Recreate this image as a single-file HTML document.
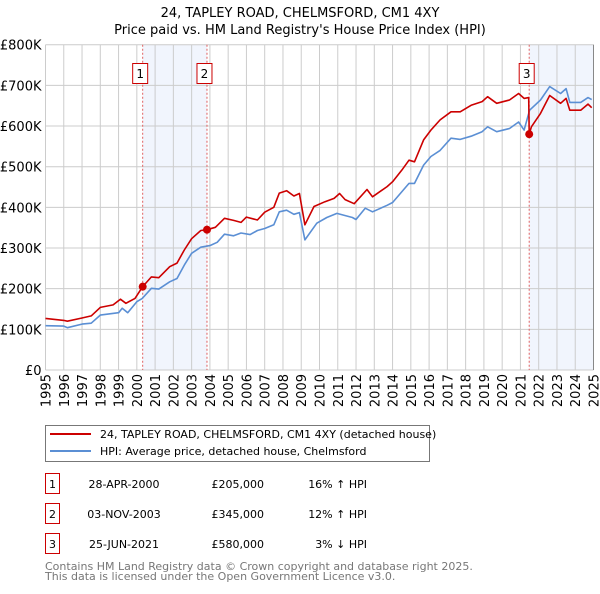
<!DOCTYPE html>
<html><head><meta charset="utf-8"><style>
body{margin:0;background:#fff;font-family:"DejaVu Sans","Liberation Sans",sans-serif;}
svg text{font-family:"DejaVu Sans","Liberation Sans",sans-serif;}
</style></head><body>
<svg width="600" height="590" viewBox="0 0 600 590">
<g id="root"></g>
</svg>
<script>
const hpiYears=[1995,1996,1996.2,1997,1997.5,1998,1999,1999.2,1999.5,2000,2000.3,2000.8,2001.2,2001.8,2002.2,2002.6,2003,2003.5,2004,2004.4,2004.8,2005.3,2005.7,2006.2,2006.6,2007,2007.5,2007.8,2008.2,2008.6,2008.9,2009.2,2009.85,2010.4,2010.95,2011.8,2012,2012.5,2012.9,2013.7,2014,2014.9,2015.2,2015.7,2016.1,2016.6,2017.2,2017.7,2018.3,2018.9,2019.2,2019.7,2020.4,2020.9,2021.2,2021.5,2022.1,2022.6,2023.2,2023.5,2023.7,2024.3,2024.7,2024.9];
const hpiValues=[109,108,104,113,115,135,141,152,141,168,176,201,199,217,225,258,287,302,306,314,334,330,337,333,343,348,357,389,393,383,387,320,361,375,385,375,370,398,389,405,412,459,459,504,525,540,570,567,575,586,598,586,594,610,590,639,664,697,680,692,658,658,670,665];
const priceYears=[1995,1996,1996.2,1997,1997.5,1998,1998.7,1999.1,1999.4,1999.9,2000.32,2000.8,2001.2,2001.8,2002.2,2002.6,2003,2003.5,2003.84,2004.3,2004.8,2005.3,2005.7,2006,2006.6,2007,2007.5,2007.8,2008.2,2008.6,2008.9,2009.2,2009.7,2010.3,2010.8,2011.1,2011.4,2011.9,2012.6,2012.9,2013.7,2014,2014.5,2014.9,2015.2,2015.7,2016.1,2016.6,2017.2,2017.7,2018.3,2018.9,2019.2,2019.7,2020.4,2020.9,2021.2,2021.45,2021.48,2021.6,2022.1,2022.6,2023.2,2023.5,2023.7,2024.3,2024.7,2024.9];
const priceValues=[127,122,120,128,133,154,160,174,164,176,205,229,227,254,263,295,323,343,345,351,373,368,363,376,369,388,400,435,441,428,434,357,402,414,422,434,419,409,444,426,451,463,491,516,512,566,590,615,635,635,651,660,672,656,664,680,668,670,580,598,631,675,656,668,639,639,654,645];
const saleYears=[2000.32,2003.84,2021.48];
const saleValues=[205,345,580];
const saleLabels=["1","2","3"];
const yTicks=[0,100,200,300,400,500,600,700,800];
const yTickLabels=["£0","£100K","£200K","£300K","£400K","£500K","£600K","£700K","£800K"];
const xTicks=[1995,1996,1997,1998,1999,2000,2001,2002,2003,2004,2005,2006,2007,2008,2009,2010,2011,2012,2013,2014,2015,2016,2017,2018,2019,2020,2021,2022,2023,2024,2025];
const tableDates=["28-APR-2000","03-NOV-2003","25-JUN-2021"];
const tablePrices=["£205,000","£345,000","£580,000"];
const tableHpi=["16% ↑ HPI","12% ↑ HPI","3% ↓ HPI"];

const L=45.5,R=593.5,T=44.7,B=370;
const X=y=>L+(y-1995)*(R-L)/30;
const Y=v=>B-v*(B-T)/800;
const NS="http://www.w3.org/2000/svg";
const root=document.getElementById('root');
function mk(tag,attrs,parent){const e=document.createElementNS(NS,tag);for(const k in attrs)e.setAttribute(k,attrs[k]);(parent||root).appendChild(e);return e;}

// title
let t=mk('text',{x:300,y:17,'text-anchor':'middle','font-size':13,fill:'#000'});t.textContent="24, TAPLEY ROAD, CHELMSFORD, CM1 4XY";


t=mk('text',{x:300,y:34,'text-anchor':'middle','font-size':13,fill:'#000'});t.textContent="Price paid vs. HM Land Registry's House Price Index (HPI)";



// shading
const shades=[[saleYears[0],saleYears[1]],[saleYears[2],2025]];
shades.forEach((s,i)=>{const r=mk('rect',{x:X(s[0]),y:T,width:X(s[1])-X(s[0]),height:B-T,fill:'#eef3fc',opacity:0.8});

});

// grid
yTicks.forEach((v,i)=>{const l=mk('line',{x1:L,x2:R,y1:Y(v),y2:Y(v),stroke:'#cccccc','stroke-width':1});


const tx=mk('text',{x:L-4,y:Y(v)+5,'text-anchor':'end','font-size':13,fill:'#000'});tx.textContent=yTickLabels[i];

});
xTicks.forEach(y=>{const l=mk('line',{x1:X(y),x2:X(y),y1:T,y2:B,stroke:'#cccccc','stroke-width':1});


const tx=mk('text',{x:0,y:0,'text-anchor':'end','font-size':13,fill:'#000',transform:`translate(${X(y)+5},${B+4}) rotate(-90)`});tx.textContent=y;

});
let ax=mk('line',{x1:R,x2:R,y1:T,y2:B,stroke:'#888','stroke-width':1});



// sale vlines
saleYears.forEach((y,i)=>{const l=mk('line',{x1:X(y),x2:X(y),y1:T,y2:B,stroke:'#e06060','stroke-width':1,'stroke-dasharray':'2,2'});


const bx=X(y)-10;
const r=mk('rect',{x:bx,y:63.5,width:15,height:20,fill:'#fff',stroke:'#cc0000','stroke-width':1});


const tx=mk('text',{x:bx+7.5,y:78,'text-anchor':'middle','font-size':12,fill:'#000'});tx.textContent=saleLabels[i];

});

// series
const pts=(xs,vs)=>xs.map((x,i)=>X(x).toFixed(1)+','+Y(vs[i]).toFixed(1)).join(' ');
let p=mk('polyline',{points:pts(hpiYears,hpiValues),fill:'none',stroke:'#5b8fd4','stroke-width':1.6,'stroke-linejoin':'round'});


p=mk('polyline',{points:pts(priceYears,priceValues),fill:'none',stroke:'#cc0000','stroke-width':1.6,'stroke-linejoin':'round'});


saleYears.forEach((y,i)=>{const c=mk('circle',{cx:X(y),cy:Y(saleValues[i]),r:4,fill:'#cc0000'});

});

// legend
const lg=mk('g',{});


mk('rect',{x:45.5,y:425.5,width:384,height:36,fill:'#fff',stroke:'#777','stroke-width':1},lg);
mk('line',{x1:50,x2:91,y1:434,y2:434,stroke:'#cc0000','stroke-width':2},lg);
mk('line',{x1:50,x2:91,y1:451,y2:451,stroke:'#5b8fd4','stroke-width':2},lg);
t=mk('text',{x:100,y:438,'font-size':11,fill:'#000'},lg);t.textContent="24, TAPLEY ROAD, CHELMSFORD, CM1 4XY (detached house)";


t=mk('text',{x:100,y:455,'font-size':11,fill:'#000'},lg);t.textContent="HPI: Average price, detached house, Chelmsford";



// table
[483,513,543].forEach((cy,i)=>{
const r=mk('rect',{x:45.5,y:cy-9.5,width:14,height:20,fill:'#fff',stroke:'#cc0000','stroke-width':1});


let tx=mk('text',{x:52.5,y:cy+5,'text-anchor':'middle','font-size':11});tx.textContent=saleLabels[i];


tx=mk('text',{x:124,y:cy+5,'text-anchor':'middle','font-size':11});tx.textContent=tableDates[i];


tx=mk('text',{x:264,y:cy+5,'text-anchor':'end','font-size':11});tx.textContent=tablePrices[i];


tx=mk('text',{x:367,y:cy+5,'text-anchor':'end','font-size':11});tx.textContent=tableHpi[i];


});
t=mk('text',{x:45,y:570,'font-size':11,fill:'#777'});t.textContent="Contains HM Land Registry data © Crown copyright and database right 2025.";


t=mk('text',{x:45,y:580,'font-size':11,fill:'#777'});t.textContent="This data is licensed under the Open Government Licence v3.0.";


</script>
</body></html>
